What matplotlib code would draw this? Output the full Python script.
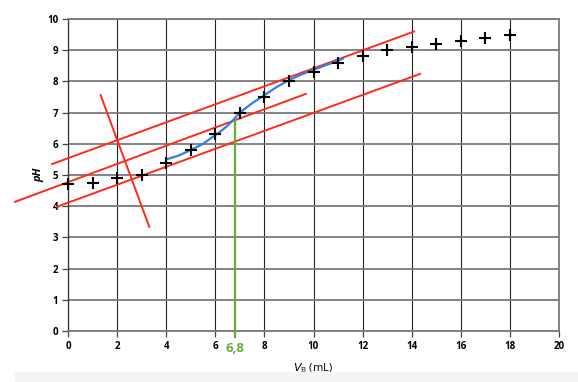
import numpy as np
import matplotlib
matplotlib.use("Agg")
import matplotlib.pyplot as plt
from matplotlib.patches import Rectangle

# points de mesure
vb = [0, 1, 2, 3, 4, 5, 6, 7, 8, 9, 10, 11, 12, 13, 14, 15, 16, 17, 18]
ph = [4.7, 4.75, 4.9, 5.0, 5.4, 5.8, 6.3, 7.0, 7.5, 8.0, 8.3, 8.6, 8.8, 9.0, 9.1, 9.2, 9.3, 9.4, 9.5]

# courbe lissee
curve_x = [4.0, 4.5, 5.0, 5.5, 6.0, 6.25, 6.5, 6.75, 7.0, 7.5, 8.0, 8.5, 9.0, 9.5, 10.0, 10.5, 11.0, 11.2]
curve_y = [5.5, 5.62, 5.8, 6.0, 6.28, 6.42, 6.58, 6.78, 7.0, 7.3, 7.56, 7.82, 8.04, 8.22, 8.37, 8.52, 8.66, 8.73]

# methode des tangentes
tan_up = ([-0.65, 14.1], [5.35, 9.6])
tan_mid = ([-2.16, 9.69], [4.14, 7.6])
tan_low = ([-0.46, 14.34], [3.98, 8.24])
perp = ([1.33, 3.31], [7.56, 3.34])

v_eq = 6.8
ph_eq = 6.76
v_eq_label = "6,8"

xticks = list(range(0, 21, 2))
yticks = list(range(0, 11))

fig = plt.figure(figsize=(5.78, 3.82), dpi=100)
fig.patches.append(Rectangle((15 / 578, 0), 1, 10 / 382, transform=fig.transFigure,
                             color="#f5f5f5", zorder=0))
ax = fig.add_axes([68 / 578, 51 / 382, 491 / 578, 312 / 382])

ax.set_xlim(0, 20)
ax.set_ylim(0, 10)
ax.set_xticks(xticks)
ax.set_yticks(yticks)

for x in xticks:
    ax.axvline(x, color="#222222", lw=0.8, zorder=1)
for y in yticks:
    ax.axhline(y, color="#7a7a7a", lw=1.3, zorder=1)

for s in ax.spines.values():
    s.set_color("#7a7a7a")
    s.set_linewidth(1.3)
ax.spines["left"].set_color("#333333")
ax.spines["left"].set_linewidth(0.9)

ax.tick_params(axis="both", direction="out", length=4, width=0.9, color="#444444",
               labelsize=7, pad=3)
for lab in ax.get_xticklabels() + ax.get_yticklabels():
    lab.set_fontweight("bold")
    lab.set_fontfamily("Open Sans")

red = "#ff2a1a"
for xs, ys in (tan_up, tan_mid, tan_low, perp):
    ax.plot(xs, ys, color=red, lw=1.4, clip_on=False, zorder=3)

ax.plot([v_eq, v_eq], [-0.18, ph_eq], color="#6aaa3a", lw=1.6, clip_on=False, zorder=3)
ax.plot(curve_x, curve_y, color="#2f7fe8", lw=1.6, zorder=4)

ax.plot(vb, ph, linestyle="none", marker="+", markersize=8.5, mew=1.5, color="black",
        zorder=5, clip_on=False)

ax.text(v_eq, -0.55, v_eq_label, color="#6aaa3a", fontsize=9.5, fontweight="bold",
        family="Open Sans", ha="center", va="center", clip_on=False)

ax.set_xlabel(r"$V_\mathregular{B}$ (mL)", fontsize=8, family="Open Sans", labelpad=7)
ax.set_ylabel("pH", fontsize=8, fontweight="bold", fontstyle="italic",
              family="Open Sans", labelpad=2)

fig.savefig("out.png", dpi=100)
